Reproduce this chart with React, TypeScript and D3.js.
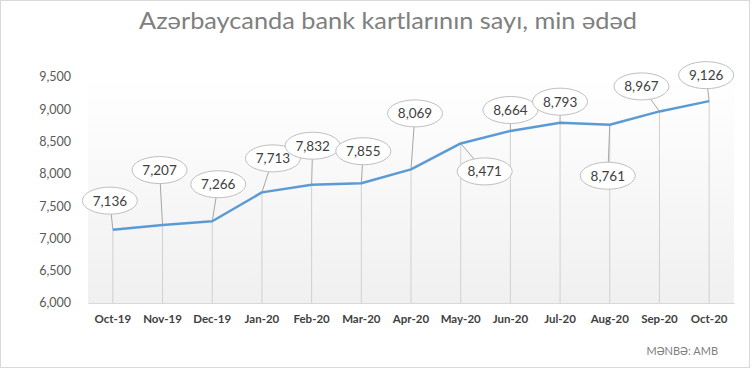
import React, { useEffect, useRef } from "react";
import * as d3 from "d3";

const months = ["Oct-19", "Nov-19", "Dec-19", "Jan-20", "Feb-20", "Mar-20", "Apr-20", "May-20", "Jun-20", "Jul-20", "Aug-20", "Sep-20", "Oct-20"];
const cards = [7136, 7207, 7266, 7713, 7832, 7855, 8069, 8471, 8664, 8793, 8761, 8967, 9126];
const yTicks = [6000, 6500, 7000, 7500, 8000, 8500, 9000, 9500];
// callout bubble offsets from each point (px)
const labelDx = [-3, -3, 6, 11, 1, 2, 4, 24, 0, 0, -2, -18, -3];
const labelDy = [-29, -55, -37, -34, -39, -32, -56, 28, -21, -21, 51, -25, -26];

const W = 753, H = 369;
const margin = { top: 77, right: 19, bottom: 66, left: 88 };

export default function App() {
  const ref = useRef<SVGSVGElement>(null);

  useEffect(() => {
    const svg = d3.select(ref.current);
    svg.selectAll("*").remove();
    const font = "Lato, 'Open Sans', sans-serif";

    const w = W - margin.left - margin.right;
    const h = H - margin.top - margin.bottom;

    // border
    svg.append("rect").attr("x", 0.5).attr("y", 0.5).attr("width", 749).attr("height", 367)
      .attr("fill", "#fff").attr("stroke", "#d9d9d9");

    const defs = svg.append("defs");
    const grad = defs.append("linearGradient").attr("id", "bg").attr("x1", 0).attr("y1", 0).attr("x2", 0).attr("y2", 1);
    grad.append("stop").attr("offset", "0%").attr("stop-color", "#ffffff");
    grad.append("stop").attr("offset", "100%").attr("stop-color", "#f0f0f0");

    svg.append("text")
      .attr("x", 388).attr("y", 29)
      .attr("text-anchor", "middle")
      .attr("font-family", font).attr("font-size", 24)
      .attr("fill", "#808080")
      .attr("textLength", 498).attr("lengthAdjust", "spacingAndGlyphs")
      .text("Azərbaycanda bank kartlarının sayı, min ədəd");

    const g = svg.append("g").attr("transform", `translate(${margin.left},${margin.top})`);

    g.append("rect").attr("x", 0).attr("y", 0).attr("width", w).attr("height", h).attr("fill", "url(#bg)");

    const x = d3.scaleBand().domain(months).range([0, w]);
    const y = d3.scaleLinear().domain([6000, 9500]).range([h, 0]);
    const cx = (m: string) => (x(m) as number) + x.bandwidth() / 2;

    // y labels
    g.append("g").selectAll("text").data(yTicks).join("text")
      .attr("x", -17).attr("y", (d) => y(d)).attr("dy", "0.35em")
      .attr("text-anchor", "end")
      .attr("font-family", font).attr("font-size", 12.5).attr("fill", "#595959")
      .text((d) => d3.format(",")(d));

    // x axis
    const xa = g.append("g").attr("transform", `translate(0,${h})`)
      .call(d3.axisBottom(x).tickSize(0).tickPadding(12));
    xa.select(".domain").attr("stroke", "#d9d9d9");
    xa.selectAll("text").attr("font-family", font).attr("font-size", 11.5)
      .attr("font-weight", "bold").attr("fill", "#404040");

    // drop lines
    g.append("g").selectAll("line").data(cards).join("line")
      .attr("x1", (d, i) => cx(months[i])).attr("x2", (d, i) => cx(months[i]))
      .attr("y1", (d) => y(d)).attr("y2", h)
      .attr("stroke", "#d0d0d0").attr("stroke-width", 1);

    // leader lines
    g.append("g").selectAll("line").data(cards).join("line")
      .attr("x1", (d, i) => cx(months[i])).attr("y1", (d) => y(d))
      .attr("x2", (d, i) => cx(months[i]) + labelDx[i]).attr("y2", (d, i) => y(d) + labelDy[i])
      .attr("stroke", "#a6a6a6").attr("stroke-width", 1);

    const line = d3.line<number>().x((d, i) => cx(months[i])).y((d) => y(d));
    g.append("path").datum(cards).attr("d", line)
      .attr("fill", "none").attr("stroke", "#5b9bd5").attr("stroke-width", 2.5)
      .attr("stroke-linejoin", "round");

    const lab = g.append("g").selectAll("g").data(cards).join("g")
      .attr("transform", (d, i) => `translate(${cx(months[i]) + labelDx[i]},${y(d) + labelDy[i]})`);
    lab.append("ellipse").attr("rx", 27.5).attr("ry", 13.5)
      .attr("fill", "#fff").attr("stroke", "#bfbfbf").attr("stroke-width", 1);
    lab.append("text").attr("text-anchor", "middle").attr("dy", "0.36em")
      .attr("font-family", font).attr("font-size", 13.5).attr("fill", "#404040")
      .text((d) => d3.format(",")(d));

    svg.append("text")
      .attr("x", 718).attr("y", 355).attr("text-anchor", "end")
      .attr("font-family", font).attr("font-size", 11).attr("fill", "#7f7f7f")
      .text("MƏNBƏ: AMB");
  }, []);

  return (
    <svg ref={ref} width={W} height={H} style={{ position: "absolute", left: 0, top: 0 }} />
  );
}
